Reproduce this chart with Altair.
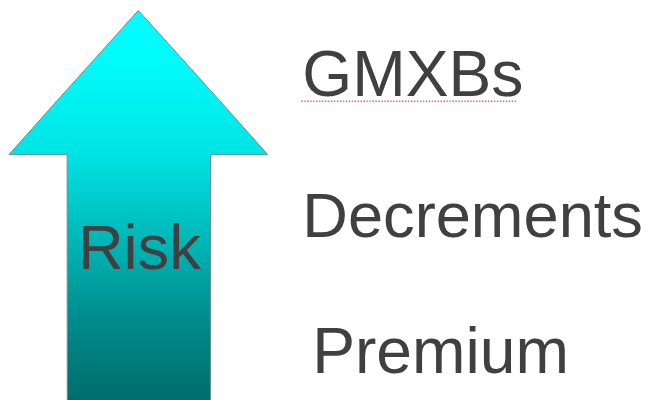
import altair as alt
import pandas as pd

# Arrow outline (reference pixel coordinates): x, top edge, bottom edge
arrow_x = [9, 67.9, 68, 140, 213, 213.1, 271]
arrow_top = [154, 88, 88, 8, 89, 89, 154]
arrow_bottom = [154, 154, 404, 404, 404, 154, 154]

labels = ["GMXBs", "Decrements", "Premium"]
label_x = [306, 306, 316]
label_y = [95, 237, 375]
label_size = [65, 64, 65]

risk_label = ["Risk"]
risk_x = [141]
risk_y = [270]

squiggle_x = [305]
squiggle_x2 = [523]
squiggle_y = [100]

arrow_df = pd.DataFrame({"x": arrow_x, "top": arrow_top, "bottom": arrow_bottom})
label_df = pd.DataFrame({"t": labels, "x": label_x, "y": label_y, "s": label_size})
risk_df = pd.DataFrame({"t": risk_label, "x": risk_x, "y": risk_y})
sq_df = pd.DataFrame({"x": squiggle_x, "x2": squiggle_x2, "y": squiggle_y})

xs = alt.Scale(domain=[8, 652], nice=False, zero=False)
ys = alt.Scale(domain=[8, 400], reverse=True, nice=False, zero=False)

gradient = {
    "gradient": "linear", "x1": 0, "y1": 0, "x2": 0, "y2": 1,
    "stops": [
        {"offset": 0.0, "color": "#00FFFF"},
        {"offset": 0.15, "color": "#00FAFA"},
        {"offset": 0.37, "color": "#00E3E3"},
        {"offset": 0.6, "color": "#00B4B4"},
        {"offset": 0.8, "color": "#008A8A"},
        {"offset": 1.0, "color": "#006C6C"},
    ],
}

arrow = alt.Chart(arrow_df).mark_area(
    fill=gradient, stroke="#6E8C8C", strokeWidth=1, clip=False, interpolate="linear",
    orient="vertical"
).encode(
    x=alt.X("x:Q", scale=xs, axis=None),
    y=alt.Y("top:Q", scale=ys, axis=None, stack=None),
    y2="bottom:Q",
)

texts = alt.Chart(label_df).mark_text(
    align="left", baseline="alphabetic", font="Liberation Sans", color="#404040"
).encode(
    x=alt.X("x:Q", scale=xs, axis=None),
    y=alt.Y("y:Q", scale=ys, axis=None),
    size=alt.Size("s:Q", scale=None, legend=None),
    text="t:N",
)

risk = alt.Chart(risk_df).mark_text(
    align="center", baseline="alphabetic", font="Liberation Sans", fontSize=64, color="#404040"
).encode(
    x=alt.X("x:Q", scale=xs, axis=None),
    y=alt.Y("y:Q", scale=ys, axis=None),
    text="t:N",
)

squiggle = alt.Chart(sq_df).mark_rule(
    color="#E86868", strokeWidth=1.5, strokeDash=[1.5, 1.5]
).encode(
    x=alt.X("x:Q", scale=xs, axis=None),
    x2="x2:Q",
    y=alt.Y("y:Q", scale=ys, axis=None),
)

chart = alt.layer(arrow, squiggle, texts, risk).properties(
    width=644, height=392, padding=0, autosize="none", background="white"
).configure_view(stroke=None)

chart.save("out.html", embed_options={"renderer": "svg", "actions": False})
